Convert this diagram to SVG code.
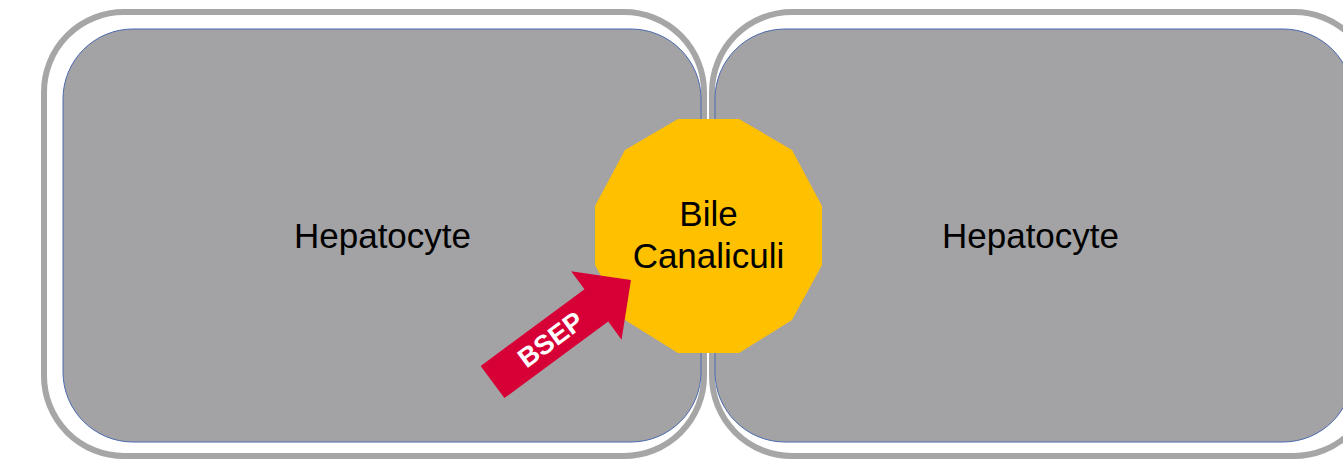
<svg xmlns="http://www.w3.org/2000/svg" width="1343" height="459" viewBox="0 0 1343 459">
<style>
.outer{fill:none;stroke:#A6A6A6;stroke-width:6}
.cell{fill:#A3A3A5;stroke:#4A6BAE;stroke-width:1}
.lbl{font-family:"Liberation Sans",Arial,sans-serif;font-size:35px;fill:#000;text-anchor:middle}
.bsep{font-family:"Liberation Sans",Arial,sans-serif;font-size:27px;font-weight:bold;fill:#fff;text-anchor:middle}
</style>
<rect width="1343" height="459" fill="#fff"/>
<g id="cell-left">
<rect class="outer" x="44" y="12" width="660" height="444" rx="80" ry="80"/>
<rect class="cell" x="63" y="29" width="638" height="413" rx="70" ry="70"/>
<text class="lbl" x="382.5" y="248">Hepatocyte</text>
</g>
<g id="cell-right">
<rect class="outer" x="712" y="12" width="662" height="444" rx="80" ry="80"/>
<rect class="cell" x="715" y="29" width="638" height="413" rx="70" ry="70"/>
<text class="lbl" x="1030.5" y="248">Hepatocyte</text>
</g>
<g id="bile-canaliculi">
<polygon fill="#FFC000" points="678,119 739,119 792,150 822,206 822,265 792,320 739,353 678,353 625,320 595,265 595,206 625,150"/>
<text class="lbl" x="708.5" y="226">Bile</text>
<text class="lbl" x="708.5" y="268">Canaliculi</text>
</g>
<g id="connectors">
<g id="bsep-arrow" transform="translate(492.5,382) rotate(-36.4)">
<polygon fill="#D70036" points="0,-20 129,-20 129,-42.5 172,0 129,42.5 129,20 0,20"/>
<text class="bsep" x="72" y="9.5">BSEP</text>
</g>
</g>
</svg>
